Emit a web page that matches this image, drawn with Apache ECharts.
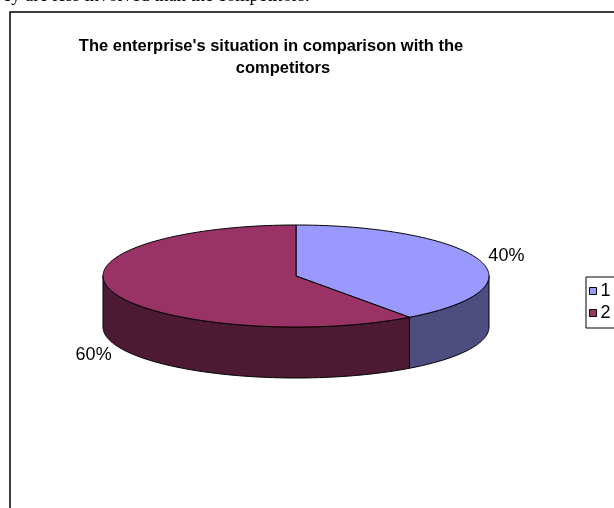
<!DOCTYPE html>
<html>
<head>
<meta charset="utf-8">
<script src="https://cdn.jsdelivr.net/npm/echarts@6/dist/echarts.min.js"></script>
<style>
html,body{margin:0;padding:0;background:#fff;}
#chart{width:614px;height:508px;}
</style>
</head>
<body>
<div id="chart"></div>
<script>
const categories = ['1', '2'];
const values = [40, 60];
const pctLabels = ['40%', '60%'];
const topColors = ['#9999FF', '#993366'];
const sideColors = ['#4D4D80', '#4D1A33'];
const titleLines = ["The enterprise's situation in comparison with the", 'competitors'];
const pageText = 'ey are less involved than the competitors.';

const chart = echarts.init(document.getElementById('chart'), null, {renderer: 'canvas'});

const geo = {cx: 296, cy: 276, rx: 193, ry: 51, depth: 51};
const total = values.reduce((a, b) => a + b, 0);
const D2R = Math.PI / 180;

function pt(deg, dy) {
  const t = deg * D2R;
  return [geo.cx + geo.rx * Math.sin(t), geo.cy - geo.ry * Math.cos(t) + dy];
}
function arc(a, b, dy) {
  const pts = [];
  const n = Math.max(2, Math.ceil(Math.abs(b - a)));
  for (let i = 0; i <= n; i++) pts.push(pt(a + (b - a) * i / n, dy));
  return pts;
}

function makeRender(idx) {
  return function (params, api) {
    let before = 0;
    for (let i = 0; i < idx; i++) before += values[i];
    const start = before / total * 360;
    const end = (before + values[idx]) / total * 360;
    const children = [];
    const a = Math.max(start, 90), b = Math.min(end, 270);
    if (a < b) {
      const side = arc(a, b, 0).concat(arc(b, a, geo.depth));
      children.push({
        type: 'polygon', shape: {points: side},
        style: {fill: sideColors[idx], stroke: '#000', lineWidth: 1}
      });
    }
    const top = [[geo.cx, geo.cy]].concat(arc(start, end, 0));
    children.push({
      type: 'polygon', shape: {points: top},
      style: {fill: topColors[idx], stroke: '#000', lineWidth: 1}
    });
    const m = (start + end) / 2 * D2R;
    const lx = geo.cx + 4 + (geo.rx + 24) * Math.sin(m);
    const ly = geo.cy - (geo.ry + 14) * Math.cos(m) + (Math.cos(m) < 0 ? geo.depth + 8 : 0);
    children.push({
      type: 'text', x: lx, y: ly,
      style: {text: pctLabels[idx], align: 'center', verticalAlign: 'middle',
        font: '18px "Liberation Sans", Arial, sans-serif', fill: '#000'}
    });
    return {type: 'group', children: children};
  };
}

const option = {
  animation: false,
  backgroundColor: '#fff',
  title: [
    {text: titleLines[0], left: 271, top: 38, textAlign: 'center', padding: 0,
      textStyle: {fontFamily: '"Liberation Sans", Arial, sans-serif', fontWeight: 'bold', fontSize: 16.5, color: '#000'}},
    {text: titleLines[1], left: 283, top: 60, textAlign: 'center', padding: 0,
      textStyle: {fontFamily: '"Liberation Sans", Arial, sans-serif', fontWeight: 'bold', fontSize: 16.5, color: '#000'}}
  ],
  legend: {
    orient: 'vertical', left: 586, top: 277,
    data: categories,
    icon: 'rect', itemWidth: 7, itemHeight: 7, itemGap: 4,
    padding: [5, 8, 6, 3],
    backgroundColor: '#fff', borderColor: '#000', borderWidth: 1,
    itemStyle: {borderColor: '#000', borderWidth: 1},
    textStyle: {fontFamily: '"Liberation Sans", Arial, sans-serif', fontSize: 18, color: '#000', padding: [0, 0, 0, -1]},
    selectedMode: false
  },
  graphic: [
    {type: 'rect', shape: {x: 10, y: 12, width: 800, height: 700},
      style: {fill: 'none', stroke: '#000', lineWidth: 1.5}, z: -1},
    {type: 'text', x: 3, y: -3.5,
      style: {text: pageText, align: 'left', verticalAlign: 'middle',
        font: '18.5px "Liberation Serif", "Times New Roman", serif', fill: '#000'}}
  ],
  series: categories.map((c, i) => ({
    type: 'custom', name: c, coordinateSystem: 'none',
    itemStyle: {color: topColors[i]},
    data: [values[i]],
    renderItem: makeRender(i)
  }))
};
chart.setOption(option);
</script>
</body>
</html>
